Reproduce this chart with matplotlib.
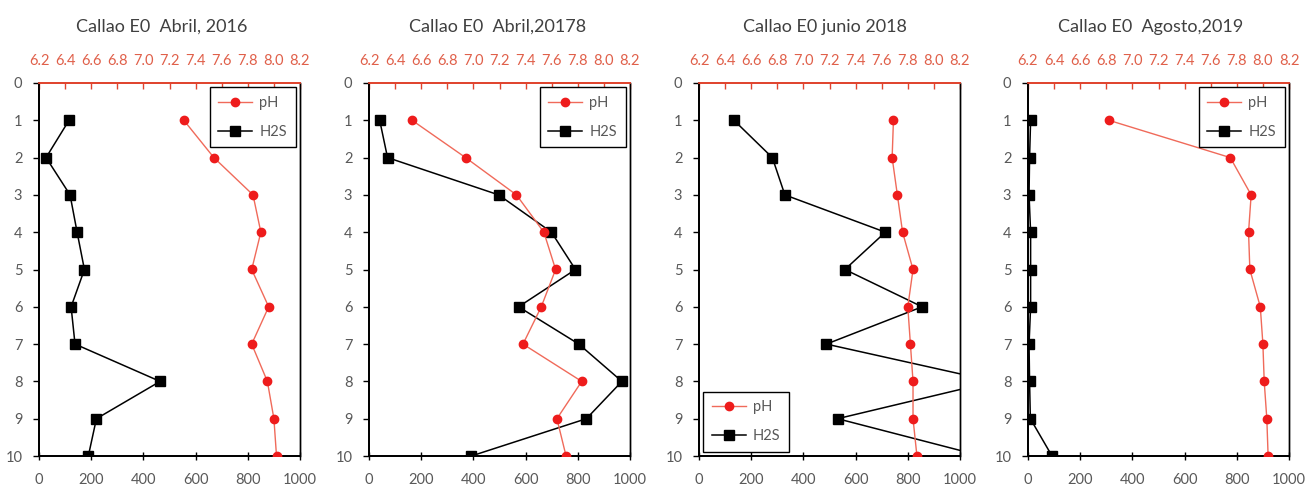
import matplotlib
matplotlib.use("Agg")
import matplotlib.pyplot as plt

plt.rcParams['font.family'] = ['Lato', 'DejaVu Sans']

depth = [1, 2, 3, 4, 5, 6, 7, 8, 9, 10]

titles = ["Callao E0  Abril, 2016", "Callao E0  Abril,20178",
          "Callao E0 junio 2018", "Callao E0  Agosto,2019"]

h2s = [
    [115, 27, 119, 146, 174, 123, 138, 464, 220, 189],
    [41, 71, 497, 699, 791, 573, 804, 969, 833, 392],
    [134, 281, 329, 714, 559, 855, 488, 1130, 531, 1083],
    [10, 6, 4, 10, 10, 10, 4, 6, 9, 92],
]

ph = [
    [7.31, 7.54, 7.84, 7.90, 7.83, 7.96, 7.83, 7.95, 8.00, 8.02],
    [6.53, 6.94, 7.33, 7.54, 7.63, 7.52, 7.38, 7.83, 7.64, 7.71],
    [7.69, 7.68, 7.72, 7.76, 7.84, 7.80, 7.82, 7.84, 7.84, 7.87],
    [6.82, 7.75, 7.91, 7.89, 7.90, 7.98, 8.00, 8.01, 8.03, 8.04],
]

legend_loc = ["upper right", "upper right", "lower left", "upper right"]

gray = "#595959"
red_txt = "#e0604a"
red_spine = "#e0452f"

W, H = 1309, 487
fig = plt.figure(figsize=(W / 100, H / 100), dpi=100)

lefts = [39, 369, 699, 1028]
title_x = [162, 498, 825, 1151]
ax_w, ax_top, ax_bot = 261, 83, 456

for i in range(4):
    ax = fig.add_axes([lefts[i] / W, 1 - ax_bot / H, ax_w / W, (ax_bot - ax_top) / H])
    ax2 = ax.twiny()

    l2, = ax.plot(h2s[i], depth, color="black", lw=1.1, marker="s", ms=7,
                  label="H2S", zorder=3)
    l1, = ax2.plot(ph[i], depth, color="#f06a5a", lw=1.0, marker="o", ms=6,
                   mfc="#ee1c1c", mec="#ee1c1c", label="pH", zorder=3)

    ax.set_xlim(0, 1000)
    ax.set_ylim(10, 0)
    ax.set_xticks(range(0, 1001, 200))
    ax.set_yticks(range(0, 11))
    ax2.set_xlim(6.2, 8.2)
    ax2.set_xticks([6.2 + 0.2 * k for k in range(11)])
    ax2.set_xticklabels(["%.1f" % (6.2 + 0.2 * k) for k in range(11)])

    ax.tick_params(axis="y", direction="out", length=4, width=1.0, pad=8,
                   labelsize=10.5, labelcolor=gray, color="black")
    ax.tick_params(axis="x", direction="inout", length=6, width=1.0, pad=9,
                   labelsize=10.5, labelcolor=gray, color="black")
    ax2.tick_params(axis="x", direction="in", length=4, width=1.0, pad=11,
                    labelsize=10.5, labelcolor=red_txt, color=red_spine)

    for a in (ax, ax2):
        a.spines["left"].set_linewidth(1.3)
        a.spines["bottom"].set_linewidth(1.3)
        a.spines["right"].set_linewidth(1.0)
        a.spines["top"].set_color(red_spine)
        a.spines["top"].set_linewidth(1.3)
        a.patch.set_visible(False)

    leg = ax2.legend([l1, l2], ["pH", "H2S"], loc=legend_loc[i], fontsize=10.5,
                     frameon=True, fancybox=False, framealpha=1,
                     edgecolor="black", handlelength=2.3, handletextpad=0.5,
                     labelspacing=1.0, borderpad=0.6, borderaxespad=0.3)
    leg.get_frame().set_linewidth(1.0)
    for t in leg.get_texts():
        t.set_color(gray)

    fig.text(title_x[i] / W, 1 - 27 / H, titles[i], ha="center",
             va="center", fontsize=13, color="#404040")

fig.savefig("out.png", dpi=100)
